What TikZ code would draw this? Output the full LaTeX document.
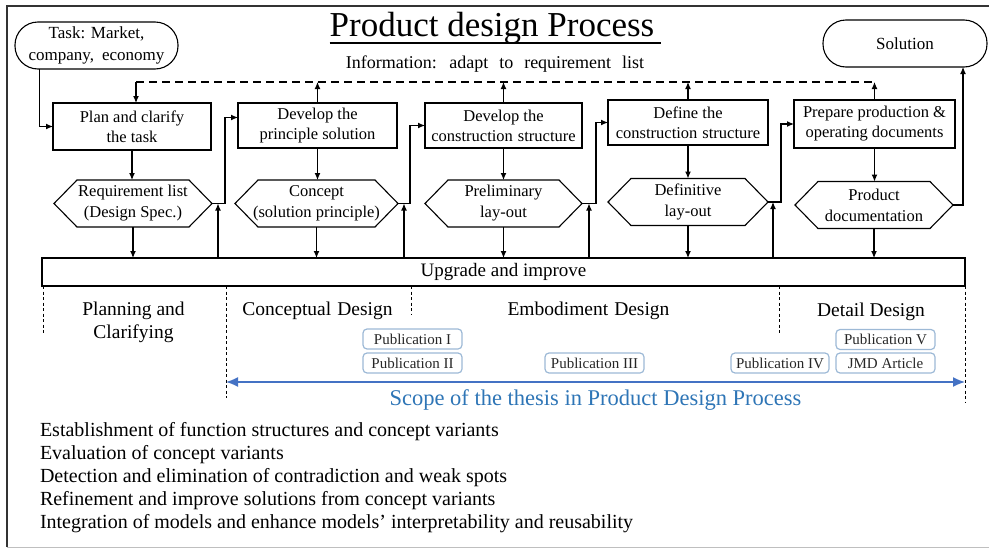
\documentclass[tikz,border=0pt]{standalone}
\usepackage{fontspec}
\setmainfont{Liberation Serif}
\usetikzlibrary{arrows.meta}
\newcommand\myfs[2]{\fontsize{#1}{#2}\selectfont}
\definecolor{pubborder}{HTML}{9DB9D6}
\definecolor{scopeblue}{HTML}{4472C4}
\definecolor{scopetext}{HTML}{2E75B6}
\begin{document}
\begin{tikzpicture}[x=1pt,y=-1pt,
  every node/.style={inner sep=0pt, outer sep=0pt},
  proc/.style={draw, line width=1.1pt, align=center, font=\myfs{16.5}{20}},
  hexbox/.style={align=center, font=\myfs{16.5}{21}, minimum height=47pt},
  term/.style={draw, line width=1.1pt, rounded corners=23pt, align=center, font=\myfs{17}{22}, minimum height=47pt},
  arr/.style={line width=1.1pt, -{Latex[length=7pt,width=6pt]}},
  con/.style={line width=1.1pt},
  infoline/.style={line width=1.2pt, dash pattern=on 8pt off 5pt},
  phase/.style={line width=1pt, dash pattern=on 3pt off 2.5pt},
  pub/.style={draw=pubborder, line width=1.2pt, rounded corners=4pt, minimum width=99pt, minimum height=20pt, font=\myfs{15}{18}, text=black!85},
  phaselabel/.style={font=\myfs{19.5}{23}, align=center},
  listitem/.style={anchor=west, font=\myfs{20}{24}},
]
\useasboundingbox (0,0) rectangle (989,549);
% frame
\draw[line width=1.5pt, black!80] (992,6) -- (7,6) -- (7,547);
\draw[line width=1pt, black!25] (7,547) -- (992,547);

% title
\node[font=\myfs{35}{40}, anchor=base] (title) at (492,36) {Product design Process};
\draw[line width=1.3pt] ([yshift=-7pt]title.base west) -- ([yshift=-7pt, xshift=7pt]title.base east);
\node[font=\myfs{18}{22}] (info) at (495,64) {\spaceskip=11pt Information: adapt to requirement list};

% terminals
\node[term, minimum width=163pt] (task) at (96.5,45.5) {Task: Market,\\company,\hspace{8pt}economy};
\node[term, minimum width=164pt] (sol) at (905,43.5) {Solution};

% process boxes
\node[proc, minimum width=158pt, minimum height=47pt] (b1) at (132,126.5) {Plan and clarify\\the task};
\node[proc, minimum width=159pt, minimum height=45pt] (b2) at (317.5,125.5) {Develop the\\principle solution};
\node[proc, minimum width=157pt, minimum height=45pt] (b3) at (503.5,125.5) {Develop the\\construction\hspace{5pt}structure};
\node[proc, minimum width=160pt, minimum height=45pt] (b4) at (688,122.5) {Define the\\construction\hspace{5pt}structure};
\node[proc, minimum width=161pt, minimum height=48pt] (b5) at (874.5,124) {Prepare production \&\\operating documents};

% hexagons
\node[hexbox, minimum width=158pt] (h1) at (133,203.5) {Requirement list\\(Design Spec.)};
\node[hexbox, minimum width=163pt] (h2) at (316.5,203.5) {Concept\\(solution principle)};
\node[hexbox, minimum width=157pt] (h3) at (503.5,203.5) {Preliminary\\lay-out};
\node[hexbox, minimum width=160pt] (h4) at (688,202) {Definitive\\lay-out};
\node[hexbox, minimum width=158pt] (h5) at (874,205) {Product\\documentation};
\foreach \h in {h1,h2,h3,h4,h5}
  \draw[con] (\h.west) -- ([xshift=23pt]\h.north west) -- ([xshift=-23pt]\h.north east)
    -- (\h.east) -- ([xshift=-23pt]\h.south east) -- ([xshift=23pt]\h.south west) -- cycle;

% upgrade bar
\node[draw, line width=1.1pt, minimum width=923pt, minimum height=28pt, font=\myfs{19}{22}] (bar) at (503.5,272) {Upgrade and improve};

% vertical flow
\foreach \i in {1,...,5} {
  \draw[arr] (b\i.south) -- (b\i.south |- h\i.north);
  \draw[arr] (h\i.south) -- (h\i.south |- bar.north);
}

% horizontal connectors
\draw[arr] ([xshift=-57pt]task.south) |- (b1.west);
\draw[arr] (h1.east) -- ++(13,0) |- ([yshift=8pt]b2.west);
\draw[arr] (h2.east) -- ++(12,0) |- (b3.west);
\draw[arr] (h3.east) -- ++(14,0) |- (b4.west);
\draw[arr] (h4.east) -- ++(13,0) |- (b5.west);
\draw[arr] (h5.east) -| ([xshift=58pt]sol.south);

% feedback arrows from bar
\coordinate (u1) at ([xshift=6pt]h1.east);
\coordinate (u2) at ([xshift=6pt]h2.east);
\coordinate (u3) at ([xshift=7pt]h3.east);
\coordinate (u4) at ([xshift=5pt]h4.east);
\foreach \u in {u1,u2,u3,u4}
  \draw[arr] (\u |- bar.north) -- (\u);

% information dashed line
\coordinate (dl) at (136,82);
\draw[infoline] (dl) -- (b5.north |- dl);
\draw[arr] (dl) -- (dl |- b1.north);
\foreach \b in {b2,b3,b4,b5}
  \draw[arr] (\b.north) -- (\b.north |- dl);

% phase separators
\draw[phase] (43,286) -- (43,333);
\draw[phase] (226,286) -- (226,398);
\draw[phase] (411,286) -- (411,315);
\draw[phase] (779,286) -- (779,333);
\draw[phase] (965,286) -- (965,402);

% phase labels
\node[phaselabel] (pl1) at (133.5,322) {Planning and\\Clarifying};
\node[phaselabel] (pl2) at (317.5,311) {Conceptual\hspace{6pt}Design};
\node[phaselabel] (pl3) at (588.5,311) {Embodiment\hspace{6pt}Design};
\node[phaselabel] (pl4) at (871,312) {Detail Design};

% publications
\node[pub] (p1) at (412.5,339) {Publication I};
\node[pub] (p2) at (412.5,363) {Publication II};
\node[pub] (p3) at (594.5,363) {Publication III};
\node[pub, minimum width=98pt] (p4) at (780,363) {Publication IV};
\node[pub] (p5) at (885.5,339.5) {Publication V};
\node[pub] (p6) at (885.5,363) {JMD Article};

% scope arrow
\coordinate (sl) at (226,382);
\coordinate (sr) at (965,382);
\draw[line width=1.5pt, scopeblue, {Latex[length=12pt,width=10pt]}-{Latex[length=12pt,width=10pt]}] (sl) -- (sr);
\node[font=\myfs{22.5}{26}, text=scopetext] (scope) at (595.5,400) {Scope of the thesis in Product Design Process};

% list
\node[listitem] (l1) at (40,432) {Establishment of function structures and concept variants};
\node[listitem] (l2) at (40,455) {Evaluation of concept variants};
\node[listitem] (l3) at (40,478) {Detection and elimination of contradiction and weak spots};
\node[listitem] (l4) at (40,501) {Refinement and improve solutions from concept variants};
\node[listitem] (l5) at (40,524) {Integration of models and enhance models’ interpretability and reusability};
\end{tikzpicture}
\end{document}
